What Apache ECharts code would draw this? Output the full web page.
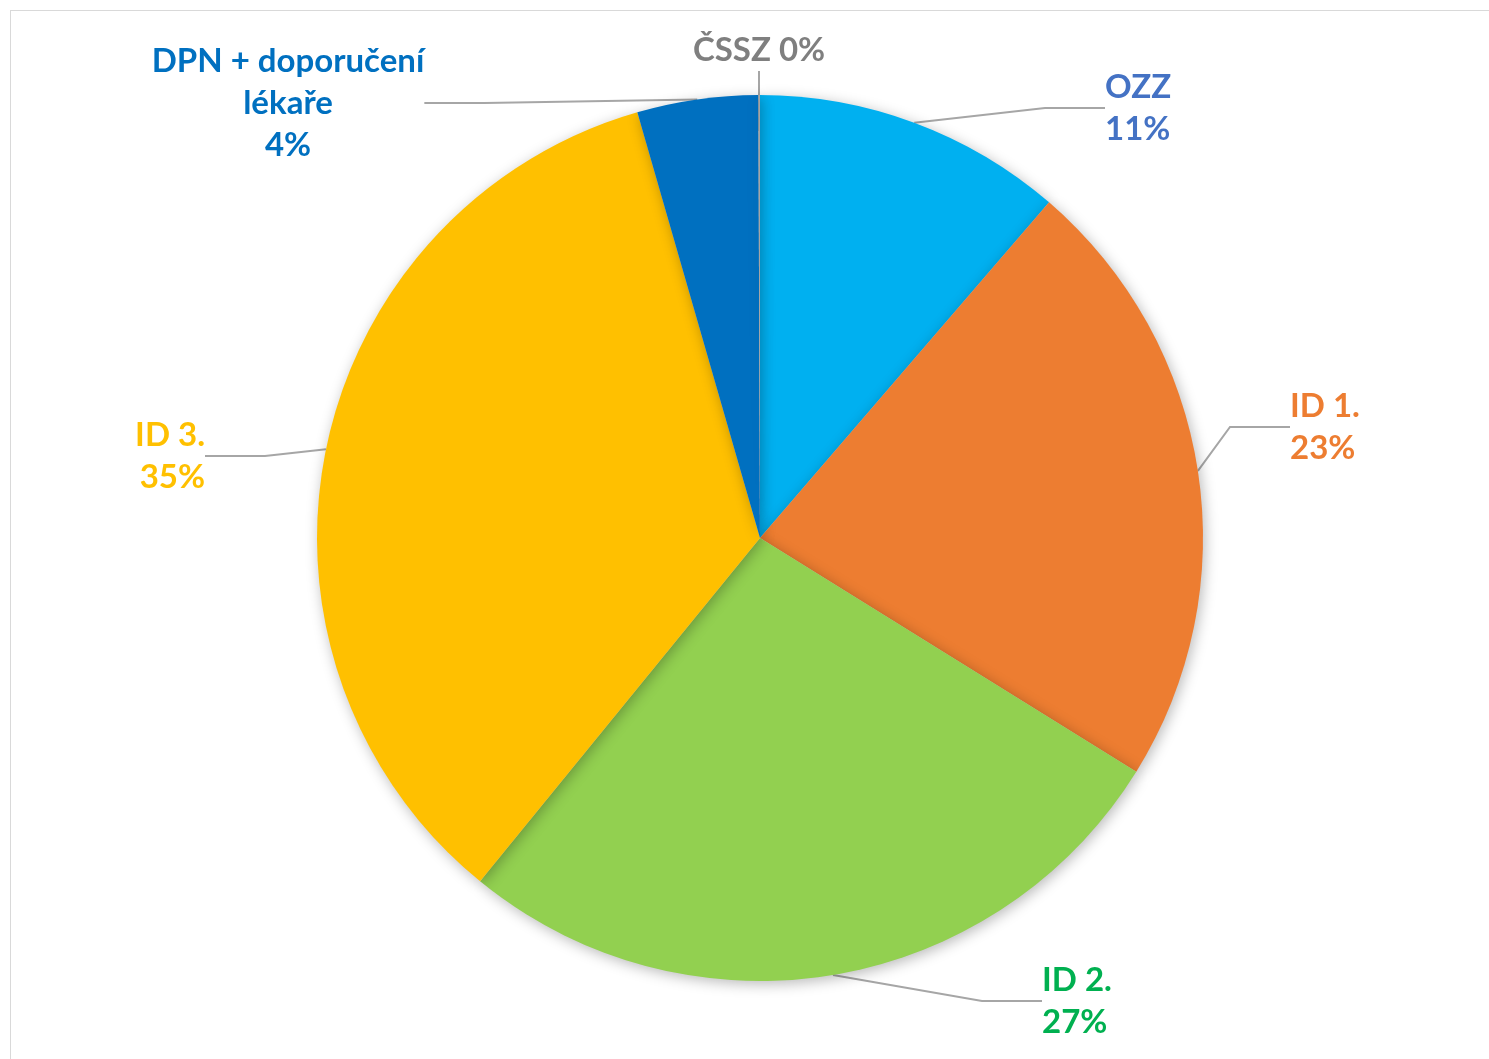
<!DOCTYPE html>
<html>
<head>
<meta charset="utf-8">
<script src="https://cdn.jsdelivr.net/npm/echarts@6/dist/echarts.min.js"></script>
<style>
  body { margin: 0; background: #fff; }
  #frame { position: absolute; left: 10px; top: 10px; width: 1500px; height: 1060px; border: 1px solid #d9d9d9; }
  #pie { position: absolute; left: 0; top: 0; width: 1489px; height: 1059px; }
</style>
</head>
<body>
<div id="frame"></div>
<div id="pie"></div>
<script>
// slice names, values (share in %), colours
var names = ["OZZ", "ID 1.", "ID 2.", "ID 3.", "DPN + doporučení\nlékaře", "ČSSZ"];
var values = [11.3, 22.5, 27.0, 34.6, 4.4, 0.06];
var sliceColors = ["#00B0F0", "#ED7D31", "#92D050", "#FFC000", "#0070C0", "#A5A5A5"];
var labelColors = ["#4472C4", "#ED7D31", "#00B050", "#FFC000", "#0070C0", "#7F7F7F"];

// where each data label sits (anchor x, y, text alignment)
var labelSpots = [
  { x: 1105, y: 108, align: "left" },
  { x: 1290, y: 427, align: "left" },
  { x: 1042, y: 1001, align: "left" },
  { x: 205, y: 456, align: "right" },
  { x: 288, y: 103, align: "center" },
  { x: 759, y: 50, align: "center" }
];

var myChart = echarts.init(document.getElementById("pie"));

var data = names.map(function (n, i) {
  return {
    name: n,
    value: values[i],
    itemStyle: { color: sliceColors[i] },
    label: { color: labelColors[i] }
  };
});

myChart.setOption({
  animation: false,
  series: [
    {
      type: "pie",
      center: [760, 538],
      radius: 443,
      startAngle: 90,
      clockwise: true,
      avoidLabelOverlap: false,
      itemStyle: {
        borderWidth: 0,
        shadowBlur: 14,
        shadowColor: "rgba(0,0,0,0.28)",
        shadowOffsetX: 2,
        shadowOffsetY: 3
      },
      label: {
        show: true,
        fontFamily: "Lato",
        fontWeight: "bold",
        fontSize: 33,
        lineHeight: 42,
        formatter: function (p) {
          if (p.dataIndex === 5) return p.name + " " + Math.round(p.percent) + "%";
          return p.name + "\n" + Math.round(p.percent) + "%";
        }
      },
      labelLine: {
        show: true,
        length: 20,
        length2: 60,
        minTurnAngle: 0,
        lineStyle: { color: "#A6A6A6", width: 2 }
      },
      labelLayout: function (p) {
        var s = labelSpots[p.dataIndex];
        return { x: s.x, y: s.y, align: s.align, verticalAlign: "middle" };
      },
      data: data
    }
  ]
});
</script>
</body>
</html>
